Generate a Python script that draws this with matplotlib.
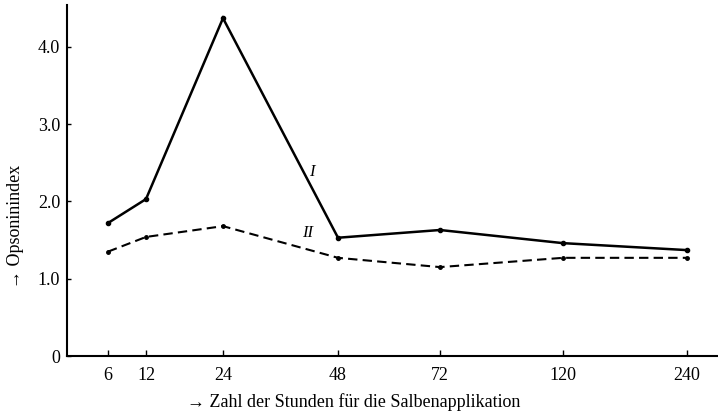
import numpy as np
import matplotlib
matplotlib.use("Agg")
import matplotlib.pyplot as plt

# Data
hours = [6, 12, 24, 48, 72, 120, 240]
series_I = [1.72, 2.03, 4.37, 1.53, 1.63, 1.46, 1.37]
series_II = [1.35, 1.54, 1.68, 1.27, 1.15, 1.27, 1.27]
y_ticks = [0, 1.0, 2.0, 3.0, 4.0]
y_ticklabels = ["0", "1.0", "2.0", "3.0", "4.0"]
x_ticklabels = ["6", "12", "24", "48", "72", "120", "240"]

# Axis scale as drawn in the original (irregular spacing of the hour marks)
scale_hours = [0, 6, 12, 24, 48, 72, 120, 240, 270]
scale_pos = [0, 41, 79, 156, 271, 373, 496, 620, 651]

def fwd(x):
    return np.interp(x, scale_hours, scale_pos)

def inv(p):
    return np.interp(p, scale_pos, scale_hours)

plt.rcParams['font.family'] = ['Liberation Serif', 'DejaVu Serif']

fig = plt.figure(figsize=(7.18, 4.15), dpi=100)
ax = fig.add_axes([67/718, 1 - 356/415, 1 - 67/718, (356 - 5)/415])
ax.set_xscale('function', functions=(fwd, inv))

ax.plot(hours, series_I, color='black', lw=1.8, marker='o', ms=3, solid_joinstyle='miter')
ax.plot(hours, series_II, color='black', lw=1.5, ls=(0, (4.5, 2.5)), marker='o', ms=2.5)

ax.set_xlim(0, 270)
ax.set_ylim(0, (356 - 5) / 77.3)

ax.set_xticks(hours)
ax.set_xticklabels(x_ticklabels, fontsize=13)
ax.set_yticks(y_ticks)
ax.set_yticklabels(y_ticklabels, fontsize=13)
ax.tick_params(axis='x', direction='in', length=4, width=1, pad=8)
ax.tick_params(axis='y', direction='in', length=3, width=1, pad=5)

for s in ['top', 'right']:
    ax.spines[s].set_visible(False)
for s in ['left', 'bottom']:
    ax.spines[s].set_linewidth(1.5)

# Line labels
ax.annotate("I", xy=(48, series_I[3]), xytext=(-19, 47), textcoords='offset points',
            fontsize=12, style='italic', ha='center', va='center')
ax.annotate("II", xy=(48, series_II[3]), xytext=(-22, 18), textcoords='offset points',
            fontsize=12, style='italic', ha='center', va='center')

ax.set_xlabel("→ Zahl der Stunden für die Salbenapplikation", fontsize=13)
ax.xaxis.set_label_coords(0.44, -0.105)
ax.set_ylabel("→ Opsoninindex", fontsize=13)
ax.yaxis.set_label_coords(-0.066, 0.37)

fig.savefig("out.png", dpi=100)
